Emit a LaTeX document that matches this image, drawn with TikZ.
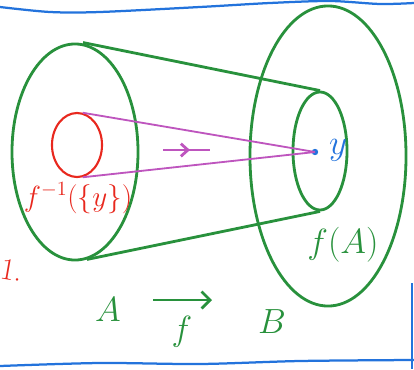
\documentclass[tikz,border=0pt]{standalone}
\usetikzlibrary{shapes.geometric,arrows.meta}
\definecolor{setgreen}{RGB}{40,145,60}
\definecolor{prered}{RGB}{232,40,30}
\definecolor{raypink}{RGB}{190,85,190}
\definecolor{penblue}{RGB}{35,115,220}
\tikzset{
  setoval/.style = {ellipse, draw=setgreen, line width=2pt, inner sep=0pt},
  preoval/.style = {setoval, draw=prered, line width=1.5pt},
  side/.style    = {draw=setgreen, line width=2pt},
  ray/.style     = {draw=raypink, line width=1.3pt},
  frame/.style   = {draw=penblue, line width=1.6pt},
  glabel/.style  = {text=setgreen, font=\fontsize{26}{28}\selectfont},
  maparrow/.style = {side, -{Straight Barb[length=6pt,width=12pt]}},
}
\begin{document}
\begin{tikzpicture}[x=0.025cm, y=-0.025cm]
    \useasboundingbox (0,0) rectangle (414,369);

    % sets
    \node[setoval, minimum width=3.15cm, minimum height=5.4cm] (A) at (75,152) {};
    \node[setoval, minimum width=3.9cm, minimum height=7.5cm] (B) at (328,156) {};
    \node[setoval, minimum width=1.35cm, minimum height=2.95cm] (fA) at (320,151) {};
    \node[preoval, minimum width=1.25cm, minimum height=1.6cm] (pre) at (77,145) {};

    \draw[side] (A.north) ++(8,0) coordinate (atop) -- (fA.north);
    \draw[side] (A.south) ++(12,-2) coordinate (abot) -- (fA.south);

    % the point y and its preimage
    \fill[penblue] (315,152) circle (3.2) coordinate (ypt);
    \node[text=penblue, font=\fontsize{26}{28}\selectfont] (ylab) at (338,150) {$y$};
    \draw[ray] (pre.80) -- (ypt);
    \draw[ray] (pre.-80) -- (ypt);
    \coordinate (ra) at (163,150);
    \coordinate (rb) at (210,150);
    \draw[ray, line width=2pt] (ra) -- (rb);
    \draw[ray, line width=2pt, -{Straight Barb[length=5pt,width=9pt]}] (ra) -- (190,150);

    \node[text=prered, font=\fontsize{21}{23}\selectfont] (prelab) at (78,198) {$f^{-1}(\{y\})$};
    \node[glabel] (fAlab) at (343,245) {$f(A)$};
    \node[text=prered, font=\fontsize{22}{24}\selectfont, rotate=-10] (num) at (12,270) {1.};

    % A --f--> B
    \node[glabel] (labA) at (108,310) {$A$};
    \node[glabel] (labB) at (272,322) {$B$};
    \coordinate (fa) at (153,300);
    \coordinate (fb) at (212,300);
    \draw[maparrow] (fa) -- (fb);
    \node[glabel] (labf) at (182,332) {$f$};

    % paper edges
    \draw[frame] plot[smooth] coordinates {(0,7) (50,12) (100,12) (200,7) (270,3) (330,1) (380,4) (414,3)};
    \draw[frame] plot[smooth] coordinates {(0,366) (100,363) (200,364) (300,361) (414,360)};
    \draw[frame] (412,283) -- (412,369);
\end{tikzpicture}
\end{document}
